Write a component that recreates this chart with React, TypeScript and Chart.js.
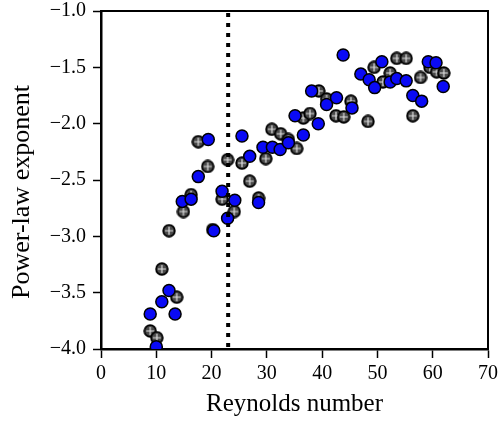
import React, { useEffect, useRef } from "react";
import { Chart, registerables } from "chart.js";

Chart.register(...registerables);

// Blue filled series
const blueRe = [10.0, 8.9, 11.0, 12.3, 13.4, 14.7, 16.3, 17.6, 19.4, 20.4, 21.9, 22.9, 24.2, 25.5, 26.9, 28.5, 29.3, 31.0, 32.4, 33.9, 35.1, 36.6, 38.1, 39.3, 40.8, 42.6, 43.8, 45.4, 47.0, 48.5, 49.5, 50.8, 52.3, 53.5, 55.2, 56.4, 58.0, 59.2, 60.6, 61.9];
const blueExp = [-3.98, -3.69, -3.58, -3.48, -3.69, -2.69, -2.67, -2.47, -2.14, -2.95, -2.60, -2.84, -2.68, -2.11, -2.29, -2.70, -2.21, -2.21, -2.23, -2.17, -1.93, -2.10, -1.71, -2.00, -1.83, -1.77, -1.39, -1.86, -1.56, -1.61, -1.68, -1.45, -1.63, -1.60, -1.62, -1.75, -1.80, -1.45, -1.46, -1.67];

// Gray crosshair series
const grayRe = [8.9, 10.1, 11.0, 13.7, 12.3, 14.9, 16.3, 17.6, 19.3, 20.2, 21.9, 22.9, 24.1, 25.5, 26.9, 28.5, 29.8, 30.9, 32.5, 33.9, 35.4, 36.6, 37.8, 39.4, 40.8, 42.5, 43.9, 45.2, 48.3, 49.4, 51.0, 52.3, 53.5, 55.2, 56.4, 57.8, 59.5, 60.7, 62.0];
const grayExp = [-3.84, -3.90, -3.29, -3.54, -2.95, -2.78, -2.63, -2.16, -2.38, -2.94, -2.67, -2.32, -2.78, -2.35, -2.51, -2.66, -2.31, -2.05, -2.09, -2.14, -2.22, -1.95, -1.91, -1.71, -1.78, -1.93, -1.94, -1.80, -1.98, -1.50, -1.63, -1.55, -1.42, -1.42, -1.93, -1.59, -1.50, -1.54, -1.55];

const thresholdRe = 23;
const xRange = [0, 70];
const yRange = [-4.0, -1.0];
const xStep = 10;
const yStep = 0.5;
const xTitle = "Reynolds number";
const yTitle = "Power-law exponent";

const FONT = "'Liberation Serif', 'Times New Roman', serif";

function makeGrayMarker(): HTMLCanvasElement {
  const c = document.createElement("canvas");
  c.width = 14;
  c.height = 14;
  const g = c.getContext("2d")!;
  g.beginPath();
  g.arc(7, 7, 5.8, 0, Math.PI * 2);
  g.fillStyle = "#4a4a4a";
  g.fill();
  g.lineWidth = 1.8;
  g.strokeStyle = "#000";
  g.stroke();
  g.strokeStyle = "#e0e0e0";
  g.lineWidth = 1.2;
  g.beginPath();
  g.moveTo(7, 3);
  g.lineTo(7, 11);
  g.moveTo(3, 7);
  g.lineTo(11, 7);
  g.stroke();
  return c;
}

const framePlugin = {
  id: "frameAndLine",
  afterDatasetsDraw(chart: any) {
    const { ctx, chartArea, scales } = chart;
    const px = scales.x.getPixelForValue(thresholdRe);
    ctx.save();
    ctx.strokeStyle = "#000";
    ctx.lineWidth = 4;
    ctx.setLineDash([4, 6]);
    ctx.beginPath();
    ctx.moveTo(px, chartArea.top + 2);
    ctx.lineTo(px, chartArea.bottom);
    ctx.stroke();
    ctx.setLineDash([]);
    ctx.lineWidth = 2;
    ctx.beginPath();
    ctx.moveTo(chartArea.left, chartArea.top);
    ctx.lineTo(chartArea.right, chartArea.top);
    ctx.lineTo(chartArea.right, chartArea.bottom);
    ctx.stroke();
    // y-axis title
    ctx.translate(22, (chartArea.top + chartArea.bottom) / 2 + 12);
    ctx.rotate(-Math.PI / 2);
    ctx.fillStyle = "#000";
    ctx.font = `26px ${FONT}`;
    ctx.textAlign = "center";
    ctx.textBaseline = "middle";
    ctx.fillText(yTitle, 0, 0);
    ctx.restore();
  },
};

export default function App() {
  const ref = useRef<HTMLCanvasElement | null>(null);
  useEffect(() => {
    if (!ref.current) return;
    const grayMarker = makeGrayMarker();
    const chart = new Chart(ref.current, {
      type: "scatter",
      data: {
        datasets: [
          {
            label: "blue",
            data: blueRe.map((x, i) => ({ x, y: blueExp[i] })),
            backgroundColor: "#0a0af5",
            borderColor: "#000",
            borderWidth: 1.5,
            pointRadius: 6,
          },
          {
            label: "gray",
            data: grayRe.map((x, i) => ({ x, y: grayExp[i] })),
            pointStyle: grayMarker as any,
            pointRadius: 7,
          },
        ],
      },
      options: {
        animation: false,
        responsive: false,
        maintainAspectRatio: false,
        layout: { padding: { top: 11, right: 12, left: 0, bottom: 0 } },
        plugins: { legend: { display: false }, tooltip: { enabled: false } },
        scales: {
          x: {
            type: "linear",
            min: xRange[0],
            max: xRange[1],
            ticks: { stepSize: xStep, color: "#000", font: { family: FONT, size: 20 }, padding: 4 },
            grid: { drawOnChartArea: false, drawTicks: true, tickLength: 9, tickColor: "#000", tickWidth: 1.5 },
            border: { display: true, color: "#000", width: 2.5 },
            title: { display: true, text: xTitle, color: "#000", font: { family: FONT, size: 25 }, padding: { top: 0, bottom: 2 } },
            afterFit: (s: any) => { s.height = 72; s.paddingLeft = 0; s.paddingRight = 0; },
          },
          y: {
            type: "linear",
            min: yRange[0],
            max: yRange[1],
            ticks: {
              stepSize: yStep,
              color: "#000",
              font: { family: FONT, size: 20 },
              padding: 7,
              callback: (v: any) => (Number(v) < 0 ? "\u2212" : "") + Math.abs(Number(v)).toFixed(1),
            },
            grid: { drawOnChartArea: false, drawTicks: true, tickLength: 8, tickColor: "#000", tickWidth: 1.5 },
            border: { display: true, color: "#000", width: 2.5 },
            title: { display: false },
            afterFit: (s: any) => { s.width = 101; s.paddingTop = 0; s.paddingBottom = 0; },
          },
        },
      },
      plugins: [framePlugin],
    });
    return () => chart.destroy();
  }, []);
  return (
    <div style={{ position: "fixed", left: 0, top: 0, width: 500, height: 421, background: "#fff" }}>
      <canvas ref={ref} width={500} height={421} style={{ width: 500, height: 421, display: "block" }} />
    </div>
  );
}
